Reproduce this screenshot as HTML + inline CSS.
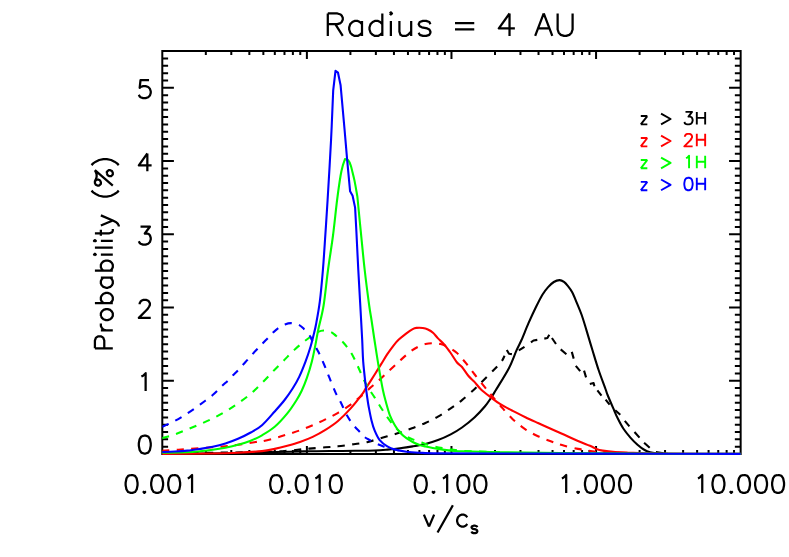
<!DOCTYPE html><html><head><meta charset="utf-8"><title>Radius = 4 AU</title>
<style>html,body{margin:0;padding:0;background:#fff;font-family:"Liberation Sans",sans-serif}svg{display:block}</style></head><body>
<svg width="789" height="557" viewBox="0 0 789 557">
<rect width="789" height="557" fill="#fff"/>
<path d="M162.3,51 H740.65 V454 H162.3 ZM205.83,454v-4M205.83,51v4M231.29,454v-4M231.29,51v4M249.35,454v-4M249.35,51v4M263.36,454v-4M263.36,51v4M274.81,454v-4M274.81,51v4M284.49,454v-4M284.49,51v4M292.88,454v-4M292.88,51v4M300.27,454v-4M300.27,51v4M306.89,454v-8M306.89,51v8M350.41,454v-4M350.41,51v4M375.87,454v-4M375.87,51v4M393.94,454v-4M393.94,51v4M407.95,454v-4M407.95,51v4M419.4,454v-4M419.4,51v4M429.08,454v-4M429.08,51v4M437.46,454v-4M437.46,51v4M444.86,454v-4M444.86,51v4M451.47,454v-8M451.47,51v8M495,454v-4M495,51v4M520.46,454v-4M520.46,51v4M538.53,454v-4M538.53,51v4M552.54,454v-4M552.54,51v4M563.99,454v-4M563.99,51v4M573.67,454v-4M573.67,51v4M582.05,454v-4M582.05,51v4M589.45,454v-4M589.45,51v4M596.06,454v-8M596.06,51v8M639.59,454v-4M639.59,51v4M665.05,454v-4M665.05,51v4M683.11,454v-4M683.11,51v4M697.12,454v-4M697.12,51v4M708.57,454v-4M708.57,51v4M718.25,454v-4M718.25,51v4M726.64,454v-4M726.64,51v4M734.03,454v-4M734.03,51v4M162.3,446.68h5.8M740.65,446.68h-5.8M162.3,439.35h5.8M740.65,439.35h-5.8M162.3,432.03h5.8M740.65,432.03h-5.8M162.3,424.71h5.8M740.65,424.71h-5.8M162.3,417.38h5.8M740.65,417.38h-5.8M162.3,410.06h5.8M740.65,410.06h-5.8M162.3,402.73h5.8M740.65,402.73h-5.8M162.3,395.41h5.8M740.65,395.41h-5.8M162.3,388.09h5.8M740.65,388.09h-5.8M162.3,380.76h11.6M740.65,380.76h-11.6M162.3,373.44h5.8M740.65,373.44h-5.8M162.3,366.12h5.8M740.65,366.12h-5.8M162.3,358.79h5.8M740.65,358.79h-5.8M162.3,351.47h5.8M740.65,351.47h-5.8M162.3,344.15h5.8M740.65,344.15h-5.8M162.3,336.82h5.8M740.65,336.82h-5.8M162.3,329.5h5.8M740.65,329.5h-5.8M162.3,322.17h5.8M740.65,322.17h-5.8M162.3,314.85h5.8M740.65,314.85h-5.8M162.3,307.53h11.6M740.65,307.53h-11.6M162.3,300.2h5.8M740.65,300.2h-5.8M162.3,292.88h5.8M740.65,292.88h-5.8M162.3,285.56h5.8M740.65,285.56h-5.8M162.3,278.23h5.8M740.65,278.23h-5.8M162.3,270.91h5.8M740.65,270.91h-5.8M162.3,263.59h5.8M740.65,263.59h-5.8M162.3,256.26h5.8M740.65,256.26h-5.8M162.3,248.94h5.8M740.65,248.94h-5.8M162.3,241.61h5.8M740.65,241.61h-5.8M162.3,234.29h11.6M740.65,234.29h-11.6M162.3,226.97h5.8M740.65,226.97h-5.8M162.3,219.64h5.8M740.65,219.64h-5.8M162.3,212.32h5.8M740.65,212.32h-5.8M162.3,205h5.8M740.65,205h-5.8M162.3,197.67h5.8M740.65,197.67h-5.8M162.3,190.35h5.8M740.65,190.35h-5.8M162.3,183.03h5.8M740.65,183.03h-5.8M162.3,175.7h5.8M740.65,175.7h-5.8M162.3,168.38h5.8M740.65,168.38h-5.8M162.3,161.05h11.6M740.65,161.05h-11.6M162.3,153.73h5.8M740.65,153.73h-5.8M162.3,146.41h5.8M740.65,146.41h-5.8M162.3,139.08h5.8M740.65,139.08h-5.8M162.3,131.76h5.8M740.65,131.76h-5.8M162.3,124.44h5.8M740.65,124.44h-5.8M162.3,117.11h5.8M740.65,117.11h-5.8M162.3,109.79h5.8M740.65,109.79h-5.8M162.3,102.47h5.8M740.65,102.47h-5.8M162.3,95.14h5.8M740.65,95.14h-5.8M162.3,87.82h11.6M740.65,87.82h-11.6M162.3,80.49h5.8M740.65,80.49h-5.8M162.3,73.17h5.8M740.65,73.17h-5.8M162.3,65.85h5.8M740.65,65.85h-5.8M162.3,58.52h5.8M740.65,58.52h-5.8" fill="none" stroke="#000" stroke-width="2" stroke-linecap="butt" stroke-linejoin="miter"/>
<clipPath id="c"><rect x="162.3" y="51" width="578.35" height="404"/></clipPath>
<g clip-path="url(#c)" fill="none" stroke-width="2.1" stroke-linejoin="round" stroke-linecap="butt">
<path d="M162,453.9C173.33,453.78 213.33,453.47 230,453.2C246.67,452.93 252,452.55 262,452.3C272,452.05 282,451.87 290,451.7C298,451.53 303.33,451.41 310,451.3C316.67,451.19 322.5,451.13 330,451.05C337.5,450.97 347.55,450.9 355,450.8C362.45,450.7 369.32,450.65 374.7,450.45C380.08,450.25 383.08,449.96 387.3,449.6C391.52,449.24 395.77,448.83 400,448.3C404.23,447.77 408.47,447.13 412.7,446.4C416.93,445.67 421.18,444.95 425.4,443.9C429.62,442.85 433.78,441.68 438,440.1C442.22,438.52 446.7,436.5 450.7,434.4C454.7,432.3 458,430.37 462,427.5C466,424.63 470.9,420.7 474.7,417.2C478.5,413.7 482.05,409.77 484.8,406.5C487.55,403.23 489.35,400.35 491.2,397.6C493.05,394.85 492.95,394.9 495.9,390C498.85,385.1 505.47,374.8 508.9,368.2C512.33,361.6 514.4,355.1 516.5,350.4C518.6,345.7 519.5,344.53 521.5,340C523.5,335.47 526.07,328.73 528.5,323.2C530.93,317.67 533.78,311.55 536.1,306.8C538.42,302.05 540.4,297.98 542.4,294.7C544.4,291.42 546.2,289.22 548.1,287.1C550,284.98 551.9,283.17 553.8,282C555.7,280.83 557.8,280.13 559.5,280.1C561.2,280.07 562.62,280.85 564,281.8C565.38,282.75 566.43,284.07 567.8,285.8C569.17,287.53 570.73,289.45 572.2,292.2C573.67,294.95 575.02,298.5 576.6,302.3C578.18,306.1 580.05,310.32 581.7,315C583.35,319.68 584.72,324.57 586.5,330.4C588.28,336.23 590.38,343.4 592.4,350C594.42,356.6 596.42,363.5 598.6,370C600.78,376.5 604,384.83 605.5,389C607,393.17 606.32,391.8 607.6,395C608.88,398.2 611.52,404.32 613.2,408.2C614.88,412.08 616.02,414.92 617.7,418.3C619.38,421.68 621.18,425.28 623.3,428.5C625.42,431.72 628.03,434.9 630.4,437.6C632.77,440.3 635.13,442.63 637.5,444.7C639.87,446.77 642.52,448.75 644.6,450C646.68,451.25 648.1,451.67 650,452.2C651.9,452.73 653,452.93 656,453.2C659,453.47 666,453.7 668,453.8" stroke="#000"/>
<path d="M162,453.5C178.67,453.25 241.5,452.42 262,452C282.5,451.58 277.6,451.52 285,451C292.4,450.48 299.67,449.52 306.4,448.9C313.13,448.28 320.13,447.73 325.4,447.3C330.67,446.87 333.78,446.75 338,446.3C342.22,445.85 347.1,445.08 350.7,444.6C354.3,444.12 356.88,443.8 359.6,443.4C362.32,443 364.48,442.77 367,442.2C369.52,441.63 371.32,440.98 374.7,440C378.08,439.02 383.08,437.55 387.3,436.3C391.52,435.05 395.77,433.88 400,432.5C404.23,431.12 408.47,429.58 412.7,428C416.93,426.42 421.18,424.9 425.4,423C429.62,421.1 433.78,419.03 438,416.6C442.22,414.17 446.7,411.15 450.7,408.4C454.7,405.65 458,403.33 462,400.1C466,396.87 471.53,391.9 474.7,389C477.87,386.1 477.83,385.87 481,382.7C484.17,379.53 490.3,373.5 493.7,370C497.1,366.5 499.58,364.08 501.4,361.7C503.22,359.32 504.07,356.7 504.6,355.7" stroke="#000" stroke-dasharray="7.3 7.35"/>
<path d="M506.8,350L509,353.8L511.9,354.1M518.8,350.3L524.5,346.8M530.95,342.4L533.5,340.5L537.3,339.9M544.3,338.6L547.4,338L549.3,334.8M551.9,338L556,344M560.7,349.4L566.4,354.2M571.8,351.9L573.7,358.6M575.8,365.8L580.2,371.2M584.05,370.6L586.05,377.4M589.8,383.9L593.6,383L594.4,386.2M597.4,390.3L601.5,395.7M605.6,399.6L609.6,404.6M615.2,410.2L620.3,414.8M624.8,420.9L629.4,426.4M634.5,432L639.5,437.6M644.1,442.7L649.7,447.7M655.9,452.1L663.5,453.2" stroke="#000"/>
<path d="M162,453.85C170.45,453.79 200.03,453.69 212.7,453.5C225.37,453.31 229.78,453.1 238,452.7C246.22,452.3 255.88,451.73 262,451.1C268.12,450.47 270.48,449.78 274.7,448.9C278.92,448.02 283.08,446.95 287.3,445.8C291.52,444.65 295.77,443.48 300,442C304.23,440.52 308.47,438.92 312.7,436.9C316.93,434.88 321.18,432.55 325.4,429.9C329.62,427.25 333.78,424.58 338,421C342.22,417.42 346.7,412.83 350.7,408.4C354.7,403.97 359.48,397.73 362,394.4C364.52,391.07 363.68,391.72 365.8,388.4C367.92,385.08 372.17,378.5 374.7,374.5C377.23,370.5 378.9,367.78 381,364.4C383.1,361.02 385.18,357.38 387.3,354.2C389.42,351.02 391.78,347.73 393.7,345.3C395.62,342.87 396.68,341.6 398.8,339.6C400.92,337.6 404.08,335.05 406.4,333.3C408.72,331.55 411.02,330 412.7,329.1C414.38,328.2 414.82,328.08 416.5,327.9C418.18,327.72 420.9,327.73 422.8,328C424.7,328.27 426.2,328.72 427.9,329.5C429.6,330.28 431.32,331.22 433,332.7C434.68,334.18 436.1,336.4 438,338.4C439.9,340.4 442.28,342.27 444.4,344.7C446.52,347.13 448.6,350.03 450.7,353C452.8,355.97 455.12,360.17 457,362.5C458.88,364.83 460.12,364.78 462,367C463.88,369.22 466.18,373.28 468.3,375.8C470.42,378.32 472.58,379.82 474.7,382.1C476.82,384.38 478.25,386.92 481,389.5C483.75,392.08 488.03,395.2 491.2,397.6C494.37,400 496.42,401.68 500,403.9C503.58,406.12 508.47,408.68 512.7,410.9C516.93,413.12 521.18,415.18 525.4,417.2C529.62,419.22 533.78,421.08 538,423C542.22,424.92 546.7,426.92 550.7,428.7C554.7,430.48 557.45,431.65 562,433.7C566.55,435.75 573.33,438.98 578,441C582.67,443.02 586.95,444.48 590,445.8C593.05,447.12 594.18,448.1 596.3,448.9C598.42,449.7 599.53,450.07 602.7,450.6C605.87,451.13 611.08,451.75 615.3,452.1C619.52,452.45 620.55,452.47 628,452.7C635.45,452.93 641,453.3 660,453.5C679,453.7 728.33,453.83 742,453.9" stroke="#f00"/>
<path d="M162,450.8C164.75,450.63 173,450.18 178.5,449.8C184,449.42 189.3,448.92 195,448.5C200.7,448.08 207.63,447.65 212.7,447.3C217.77,446.95 221.18,446.82 225.4,446.4C229.62,445.98 232.93,445.53 238,444.8C243.07,444.07 251.8,442.58 255.8,442C259.8,441.42 258.85,441.93 262,441.3C265.15,440.67 270.48,439.35 274.7,438.2C278.92,437.05 283.08,435.72 287.3,434.4C291.52,433.08 295.77,431.83 300,430.3C304.23,428.77 308.47,427.02 312.7,425.2C316.93,423.38 321.18,421.47 325.4,419.4C329.62,417.33 333.78,415.27 338,412.8C342.22,410.33 347.03,407.23 350.7,404.6C354.37,401.97 356.85,399.7 360,397C363.15,394.3 366.52,391.1 369.6,388.4C372.68,385.7 375.12,383.87 378.5,380.8C381.88,377.73 386.32,373.37 389.9,370C393.48,366.63 396.62,363.65 400,360.6C403.38,357.55 407.23,353.98 410.2,351.7C413.17,349.42 415.27,348.17 417.8,346.9C420.33,345.63 422.87,344.72 425.4,344.1C427.93,343.48 430.47,343.2 433,343.2C435.53,343.2 438.07,343.43 440.6,344.1C443.13,344.77 445.47,345.72 448.2,347.2C450.93,348.68 454.7,351.12 457,353C459.3,354.88 460.33,356.6 462,358.5C463.67,360.4 464.88,361.73 467,364.4C469.12,367.07 471.73,370.7 474.7,374.5C477.67,378.3 482.05,383.78 484.8,387.2C487.55,390.62 488.67,392 491.2,395C493.73,398 496.42,401.17 500,405.2C503.58,409.23 508.47,415.18 512.7,419.2C516.93,423.22 521.18,426.45 525.4,429.3C529.62,432.15 533.78,434.3 538,436.3C542.22,438.3 546.7,439.83 550.7,441.3C554.7,442.77 557.45,443.83 562,445.1C566.55,446.37 573.22,447.92 578,448.9C582.78,449.88 586.47,450.43 590.7,451C594.93,451.57 596.85,451.92 603.4,452.3C609.95,452.68 625.57,453.13 630,453.3" stroke="#f00" stroke-dasharray="7.3 7.35"/>
<path d="M162,452.8C166.22,452.7 180.97,452.47 187.3,452.2C193.63,451.93 195.77,451.6 200,451.2C204.23,450.8 208.47,450.38 212.7,449.8C216.93,449.22 221.18,448.53 225.4,447.7C229.62,446.87 233.78,445.97 238,444.8C242.22,443.63 246.7,442.28 250.7,440.7C254.7,439.12 258,437.62 262,435.3C266,432.98 270.48,430.45 274.7,426.8C278.92,423.15 283.65,417.87 287.3,413.4C290.95,408.93 294.2,403.77 296.6,400C299,396.23 300,394.43 301.7,390.8C303.4,387.17 305.12,383.05 306.8,378.2C308.48,373.35 310.33,367.42 311.8,361.7C313.27,355.98 314.53,349.18 315.6,343.9C316.67,338.62 316.87,336.4 318.2,330C319.53,323.6 321.97,315.5 323.6,305.5C325.23,295.5 326.43,281.67 328,270C329.57,258.33 331.48,247.17 333,235.5C334.52,223.83 335.83,210 337.1,200C338.37,190 339.62,181.37 340.6,175.5C341.58,169.63 342.6,166.58 343,164.8L345,159L345,159C345.53,159.22 347.25,159.25 348.2,160.3C349.15,161.35 349.98,163.32 350.7,165.3C351.42,167.28 351.87,169.65 352.5,172.2C353.13,174.75 353.75,176.88 354.5,180.6C355.25,184.32 356.47,191.27 357,194.5C357.53,197.73 357.07,193.8 357.7,200C358.33,206.2 359.63,220.03 360.8,231.7C361.97,243.37 363.3,257.7 364.7,270C366.1,282.3 368.07,297.17 369.2,305.5C370.33,313.83 370.58,314 371.5,320C372.42,326 373.53,333.9 374.7,341.5C375.87,349.1 377.13,357.52 378.5,365.6C379.87,373.68 381.63,383.82 382.9,390C384.17,396.18 384.93,398.48 386.1,402.7C387.27,406.92 388.42,411.5 389.9,415.3C391.38,419.1 393.32,422.63 395,425.5C396.68,428.37 398.1,430.38 400,432.5C401.9,434.62 404.28,436.62 406.4,438.2C408.52,439.78 410.6,440.9 412.7,442C414.8,443.1 416.88,444.07 419,444.8C421.12,445.53 422.23,445.72 425.4,446.4C428.57,447.08 433.78,448.2 438,448.9C442.22,449.6 446.7,450.2 450.7,450.6C454.7,451 453.78,451.03 462,451.3C470.22,451.57 483.67,451.92 500,452.2C516.33,452.48 536.67,452.78 560,453C583.33,453.22 609.67,453.35 640,453.5C670.33,453.65 725,453.83 742,453.9" stroke="#0f0"/>
<path d="M162,438.2C164.12,437.57 170.48,435.85 174.7,434.4C178.92,432.95 183.08,431.2 187.3,429.5C191.52,427.8 195.77,426.03 200,424.2C204.23,422.37 208.47,420.62 212.7,418.5C216.93,416.38 221.18,414.03 225.4,411.5C229.62,408.97 233.78,406.25 238,403.3C242.22,400.35 246.7,397.18 250.7,393.8C254.7,390.42 258.25,386.77 262,383C265.75,379.23 269.55,374.97 273.2,371.2C276.85,367.43 280.22,364.1 283.9,360.4C287.58,356.7 291.48,352.48 295.3,349C299.12,345.52 302.98,342.35 306.8,339.5C310.62,336.65 315.33,333.4 318.2,331.9C321.07,330.4 321.9,330.5 324,330.5C326.1,330.5 328.82,331.03 330.8,331.9C332.78,332.77 333.78,333.9 335.9,335.7C338.02,337.5 340.97,339.85 343.5,342.7C346.03,345.55 348.77,349 351.1,352.8C353.43,356.6 355.6,361.48 357.5,365.5C359.4,369.52 361.03,373.73 362.5,376.9C363.97,380.07 365.12,382.32 366.3,384.5C367.48,386.68 368.2,387.82 369.6,390C371,392.18 372.8,394.65 374.7,397.6C376.6,400.55 378.9,404.43 381,407.7C383.1,410.97 385.18,414.23 387.3,417.2C389.42,420.17 391.58,423.07 393.7,425.5C395.82,427.93 397.88,430 400,431.8C402.12,433.6 404.28,435.03 406.4,436.3C408.52,437.57 410.17,438.35 412.7,439.4C415.23,440.45 418.43,441.53 421.6,442.6C424.77,443.67 427.9,444.85 431.7,445.8C435.5,446.75 439.35,447.47 444.4,448.3C449.45,449.13 452.73,450.15 462,450.8C471.27,451.45 493.67,451.97 500,452.2" stroke="#0f0" stroke-dasharray="7.3 7.35"/>
<path d="M162,452C164.12,451.92 170.48,451.73 174.7,451.5C178.92,451.27 183.08,451.03 187.3,450.6C191.52,450.17 195.77,449.53 200,448.9C204.23,448.27 208.47,447.7 212.7,446.8C216.93,445.9 221.18,444.83 225.4,443.5C229.62,442.17 233.78,440.63 238,438.8C242.22,436.97 246.7,434.77 250.7,432.5C254.7,430.23 258,428.7 262,425.2C266,421.7 270.93,415.7 274.7,411.5C278.47,407.3 281.58,403.87 284.6,400C287.62,396.13 290.37,392.15 292.8,388.3C295.23,384.45 297.08,381.33 299.2,376.9C301.32,372.47 303.6,366.77 305.5,361.7C307.4,356.63 309.25,350.95 310.6,346.5C311.95,342.05 312.7,338.67 313.6,335C314.5,331.33 314.97,330.05 316,324.5C317.03,318.95 318.65,310.78 319.8,301.7C320.95,292.62 321.98,281.03 322.9,270C323.82,258.97 324.52,247.17 325.3,235.5C326.08,223.83 326.64,215.92 327.6,200C328.56,184.08 330.12,158.27 331.05,140C331.98,121.73 332.84,98.67 333.2,90.4L335.5,70.8L338,72.7L340.6,85.3L344.6,130L347.2,160.3L350.1,191.3L352.6,195.8L355.1,207.6L355.1,207.6C355.32,211.62 355.87,221.3 356.4,231.7C356.93,242.1 357.65,257.7 358.3,270C358.95,282.3 359.65,293.83 360.3,305.5C360.95,317.17 361.72,330.63 362.2,340C362.68,349.37 362.62,354.07 363.2,361.7C363.78,369.33 364.97,379.42 365.7,385.8C366.43,392.18 367.12,396.6 367.6,400C368.08,403.4 367.95,402.8 368.6,406.2C369.25,409.6 370.48,416.33 371.5,420.4C372.52,424.47 373.33,427.32 374.7,430.6C376.07,433.88 377.6,437.47 379.7,440.1C381.8,442.73 384.75,444.82 387.3,446.4C389.85,447.98 391.82,448.72 395,449.6C398.18,450.48 402.4,451.18 406.4,451.7C410.4,452.22 413.73,452.42 419,452.7C424.27,452.98 424.5,453.27 438,453.4C451.5,453.53 473,453.47 500,453.5C527,453.53 559.67,453.53 600,453.6C640.33,453.67 718.33,453.85 742,453.9" stroke="#00f"/>
<path d="M162,426.8C164.12,425.83 170.48,423.23 174.7,421C178.92,418.77 183.08,416.13 187.3,413.4C191.52,410.67 195.77,407.67 200,404.6C204.23,401.53 209.03,398.1 212.7,395C216.37,391.9 219.45,388.42 222,386C224.55,383.58 226.17,382.28 228,380.5C229.83,378.72 231.33,377 233,375.3C234.67,373.6 236.33,372.07 238,370.3C239.67,368.53 241.33,366.53 243,364.7C244.67,362.87 246.33,361.15 248,359.3C249.67,357.45 251.33,355.43 253,353.6C254.67,351.77 256.33,350.07 258,348.3C259.67,346.53 261.33,344.72 263,343C264.67,341.28 266.33,339.73 268,338C269.67,336.27 271.33,334.22 273,332.6C274.67,330.98 276,329.67 278,328.3C280,326.93 282.78,325.27 285,324.4C287.22,323.53 288.98,323.03 291.3,323.1C293.62,323.17 296.8,323.83 298.9,324.8C301,325.77 302,326.95 303.9,328.9C305.8,330.85 308.98,334.63 310.3,336.5C311.62,338.37 310.48,337.6 311.8,340.1C313.12,342.6 316.08,347.27 318.2,351.5C320.32,355.73 322.6,361.05 324.5,365.5C326.4,369.95 327.7,373.55 329.6,378.2C331.5,382.85 334.07,389.43 335.9,393.4C337.73,397.37 338.77,398.35 340.6,402C342.43,405.65 344.78,411.48 346.9,415.3C349.02,419.12 351.18,422.15 353.3,424.9C355.42,427.65 357.73,429.8 359.6,431.8C361.47,433.8 362.83,435.53 364.5,436.9C366.17,438.27 367.48,438.83 369.6,440C371.72,441.17 374.88,442.83 377.2,443.9C379.52,444.97 381.03,445.55 383.5,446.4C385.97,447.25 388.25,448.12 392,449C395.75,449.88 403.67,451.25 406,451.7" stroke="#00f" stroke-dasharray="7.3 7.35"/>
</g>
<g fill="none" stroke-width="2.25" stroke-linecap="butt" stroke-linejoin="round">
<path d="M327.80,13.45L327.80,35.90M327.80,13.45L337.42,13.45L340.63,14.52L341.70,15.59L342.77,17.73L342.77,19.86L341.70,22.00L340.63,23.07L337.42,24.14L327.80,24.14M335.28,24.14L342.77,35.90M362.01,20.93L362.01,35.90M362.01,24.14L359.87,22.00L357.73,20.93L354.52,20.93L352.39,22.00L350.25,24.14L349.18,27.35L349.18,29.49L350.25,32.69L352.39,34.83L354.52,35.90L357.73,35.90L359.87,34.83L362.01,32.69M382.32,13.45L382.32,35.90M382.32,24.14L380.18,22.00L378.04,20.93L374.84,20.93L372.70,22.00L370.56,24.14L369.49,27.35L369.49,29.49L370.56,32.69L372.70,34.83L374.84,35.90L378.04,35.90L380.18,34.83L382.32,32.69M389.80,13.45L390.87,14.52L391.94,13.45L390.87,12.38L389.80,13.45M390.87,20.93L390.87,35.90M399.42,20.93L399.42,31.62L400.49,34.83L402.63,35.90L405.84,35.90L407.97,34.83L411.18,31.62M411.18,20.93L411.18,35.90M430.42,24.14L429.35,22.00L426.15,20.93L422.94,20.93L419.73,22.00L418.66,24.14L419.73,26.28L421.87,27.35L427.22,28.42L429.35,29.49L430.42,31.62L430.42,32.69L429.35,34.83L426.15,35.90L422.94,35.90L419.73,34.83L418.66,32.69M455.01,23.07L474.25,23.07M455.01,29.49L474.25,29.49M509.53,13.45L498.84,28.42L514.87,28.42M509.53,13.45L509.53,35.90M543.74,13.45L535.19,35.90M543.74,13.45L552.29,35.90M538.39,28.42L549.08,28.42M557.63,13.45L557.63,29.49L558.70,32.69L560.84,34.83L564.05,35.90L566.19,35.90L569.39,34.83L571.53,32.69L572.60,29.49L572.60,13.45" stroke="#000"/>
<path d="M130.73,475.01L128.17,475.86L126.47,478.42L125.62,482.68L125.62,485.23L126.47,489.49L128.17,492.05L130.73,492.90L132.43,492.90L134.99,492.05L136.69,489.49L137.54,485.23L137.54,482.68L136.69,478.42L134.99,475.86L132.43,475.01L130.73,475.01M144.36,491.20L143.51,492.05L144.36,492.90L145.21,492.05L144.36,491.20M156.29,475.01L153.73,475.86L152.03,478.42L151.18,482.68L151.18,485.23L152.03,489.49L153.73,492.05L156.29,492.90L157.99,492.90L160.55,492.05L162.25,489.49L163.10,485.23L163.10,482.68L162.25,478.42L160.55,475.86L157.99,475.01L156.29,475.01M173.33,475.01L170.77,475.86L169.07,478.42L168.22,482.68L168.22,485.23L169.07,489.49L170.77,492.05L173.33,492.90L175.03,492.90L177.59,492.05L179.29,489.49L180.14,485.23L180.14,482.68L179.29,478.42L177.59,475.86L175.03,475.01L173.33,475.01M187.81,478.42L189.52,477.56L192.07,475.01L192.07,492.90" stroke="#000"/>
<path d="M275.32,475.01L272.76,475.86L271.06,478.42L270.20,482.68L270.20,485.23L271.06,489.49L272.76,492.05L275.32,492.90L277.02,492.90L279.58,492.05L281.28,489.49L282.13,485.23L282.13,482.68L281.28,478.42L279.58,475.86L277.02,475.01L275.32,475.01M288.95,491.20L288.10,492.05L288.95,492.90L289.80,492.05L288.95,491.20M300.88,475.01L298.32,475.86L296.62,478.42L295.76,482.68L295.76,485.23L296.62,489.49L298.32,492.05L300.88,492.90L302.58,492.90L305.14,492.05L306.84,489.49L307.69,485.23L307.69,482.68L306.84,478.42L305.14,475.86L302.58,475.01L300.88,475.01M315.36,478.42L317.06,477.56L319.62,475.01L319.62,492.90M334.96,475.01L332.40,475.86L330.70,478.42L329.84,482.68L329.84,485.23L330.70,489.49L332.40,492.05L334.96,492.90L336.66,492.90L339.22,492.05L340.92,489.49L341.77,485.23L341.77,482.68L340.92,478.42L339.22,475.86L336.66,475.01L334.96,475.01" stroke="#000"/>
<path d="M419.90,475.01L417.35,475.86L415.64,478.42L414.79,482.68L414.79,485.23L415.64,489.49L417.35,492.05L419.90,492.90L421.61,492.90L424.16,492.05L425.87,489.49L426.72,485.23L426.72,482.68L425.87,478.42L424.16,475.86L421.61,475.01L419.90,475.01M433.54,491.20L432.68,492.05L433.54,492.90L434.39,492.05L433.54,491.20M442.91,478.42L444.61,477.56L447.17,475.01L447.17,492.90M462.50,475.01L459.95,475.86L458.24,478.42L457.39,482.68L457.39,485.23L458.24,489.49L459.95,492.05L462.50,492.90L464.21,492.90L466.76,492.05L468.47,489.49L469.32,485.23L469.32,482.68L468.47,478.42L466.76,475.86L464.21,475.01L462.50,475.01M479.54,475.01L476.99,475.86L475.28,478.42L474.43,482.68L474.43,485.23L475.28,489.49L476.99,492.05L479.54,492.90L481.25,492.90L483.80,492.05L485.51,489.49L486.36,485.23L486.36,482.68L485.51,478.42L483.80,475.86L481.25,475.01L479.54,475.01" stroke="#000"/>
<path d="M561.93,478.42L563.64,477.56L566.19,475.01L566.19,492.90M578.12,491.20L577.27,492.05L578.12,492.90L578.97,492.05L578.12,491.20M590.05,475.01L587.49,475.86L585.79,478.42L584.94,482.68L584.94,485.23L585.79,489.49L587.49,492.05L590.05,492.90L591.75,492.90L594.31,492.05L596.01,489.49L596.87,485.23L596.87,482.68L596.01,478.42L594.31,475.86L591.75,475.01L590.05,475.01M607.09,475.01L604.53,475.86L602.83,478.42L601.98,482.68L601.98,485.23L602.83,489.49L604.53,492.05L607.09,492.90L608.79,492.90L611.35,492.05L613.05,489.49L613.91,485.23L613.91,482.68L613.05,478.42L611.35,475.86L608.79,475.01L607.09,475.01M624.13,475.01L621.57,475.86L619.87,478.42L619.02,482.68L619.02,485.23L619.87,489.49L621.57,492.05L624.13,492.90L625.83,492.90L628.39,492.05L630.09,489.49L630.95,485.23L630.95,482.68L630.09,478.42L628.39,475.86L625.83,475.01L624.13,475.01" stroke="#000"/>
<path d="M698.00,478.42L699.71,477.56L702.26,475.01L702.26,492.90M717.60,475.01L715.04,475.86L713.34,478.42L712.49,482.68L712.49,485.23L713.34,489.49L715.04,492.05L717.60,492.90L719.30,492.90L721.86,492.05L723.56,489.49L724.41,485.23L724.41,482.68L723.56,478.42L721.86,475.86L719.30,475.01L717.60,475.01M731.23,491.20L730.38,492.05L731.23,492.90L732.08,492.05L731.23,491.20M743.16,475.01L740.60,475.86L738.90,478.42L738.05,482.68L738.05,485.23L738.90,489.49L740.60,492.05L743.16,492.90L744.86,492.90L747.42,492.05L749.12,489.49L749.97,485.23L749.97,482.68L749.12,478.42L747.42,475.86L744.86,475.01L743.16,475.01M760.20,475.01L757.64,475.86L755.94,478.42L755.09,482.68L755.09,485.23L755.94,489.49L757.64,492.05L760.20,492.90L761.90,492.90L764.46,492.05L766.16,489.49L767.01,485.23L767.01,482.68L766.16,478.42L764.46,475.86L761.90,475.01L760.20,475.01M777.24,475.01L774.68,475.86L772.98,478.42L772.13,482.68L772.13,485.23L772.98,489.49L774.68,492.05L777.24,492.90L778.94,492.90L781.50,492.05L783.20,489.49L784.05,485.23L784.05,482.68L783.20,478.42L781.50,475.86L778.94,475.01L777.24,475.01" stroke="#000"/>
<path d="M143.93,435.61L141.37,436.46L139.67,439.02L138.82,443.28L138.82,445.83L139.67,450.09L141.37,452.65L143.93,453.50L145.63,453.50L148.19,452.65L149.89,450.09L150.74,445.83L150.74,443.28L149.89,439.02L148.19,436.46L145.63,435.61L143.93,435.61" stroke="#000"/>
<path d="M141.37,376.58L143.08,375.73L145.63,373.17L145.63,391.06" stroke="#000"/>
<path d="M139.67,304.20L139.67,303.34L140.52,301.64L141.37,300.79L143.08,299.94L146.48,299.94L148.19,300.79L149.04,301.64L149.89,303.34L149.89,305.05L149.04,306.75L147.34,309.31L138.82,317.83L150.74,317.83" stroke="#000"/>
<path d="M140.52,226.70L149.89,226.70L144.78,233.51L147.34,233.51L149.04,234.37L149.89,235.22L150.74,237.77L150.74,239.48L149.89,242.03L148.19,243.74L145.63,244.59L143.08,244.59L140.52,243.74L139.67,242.89L138.82,241.18" stroke="#000"/>
<path d="M147.34,153.46L138.82,165.39L151.60,165.39M147.34,153.46L147.34,171.35" stroke="#000"/>
<path d="M149.04,80.23L140.52,80.23L139.67,87.89L140.52,87.04L143.08,86.19L145.63,86.19L148.19,87.04L149.89,88.75L150.74,91.30L150.74,93.01L149.89,95.56L148.19,97.27L145.63,98.12L143.08,98.12L140.52,97.27L139.67,96.41L138.82,94.71" stroke="#000"/>
<path d="M423.90,514.67L429.02,526.60M434.13,514.67L429.02,526.60M452.87,505.30L437.54,532.56M467.36,517.23L465.65,515.52L463.95,514.67L461.39,514.67L459.69,515.52L457.98,517.23L457.13,519.78L457.13,521.49L457.98,524.04L459.69,525.75L461.39,526.60L463.95,526.60L465.65,525.75L467.36,524.04" stroke="#000"/>
<path d="M477.31,527.29L476.78,526.23L475.19,525.70L473.61,525.70L472.02,526.23L471.50,527.29L472.02,528.35L473.08,528.87L475.72,529.40L476.78,529.93L477.31,530.99L477.31,531.52L476.78,532.57L475.19,533.10L473.61,533.10L472.02,532.57L471.50,531.52" stroke="#000"/>
<path d="M647.34,116.06L640.79,124.40M640.79,116.06L647.34,116.06M640.79,124.40L647.34,124.40M661.05,113.67L670.59,119.04L661.05,124.40M685.49,111.88L692.04,111.88L688.47,116.65L690.26,116.65L691.45,117.25L692.04,117.84L692.64,119.63L692.64,120.82L692.04,122.61L690.85,123.80L689.06,124.40L687.28,124.40L685.49,123.80L684.89,123.21L684.30,122.02M696.81,111.88L696.81,124.40M705.16,111.88L705.16,124.40M696.81,117.84L705.16,117.84" stroke="#000" stroke-width="1.9"/>
<path d="M647.34,138.01L640.79,146.35M640.79,138.01L647.34,138.01M640.79,146.35L647.34,146.35M661.05,135.62L670.59,140.99L661.05,146.35M684.89,136.81L684.89,136.22L685.49,135.03L686.08,134.43L687.28,133.83L689.66,133.83L690.85,134.43L691.45,135.03L692.04,136.22L692.04,137.41L691.45,138.60L690.26,140.39L684.30,146.35L692.64,146.35M696.81,133.83L696.81,146.35M705.16,133.83L705.16,146.35M696.81,139.79L705.16,139.79" stroke="#f00" stroke-width="1.9"/>
<path d="M647.34,159.96L640.79,168.30M640.79,159.96L647.34,159.96M640.79,168.30L647.34,168.30M661.05,157.57L670.59,162.94L661.05,168.30M686.08,158.17L687.28,157.57L689.06,155.78L689.06,168.30M696.81,155.78L696.81,168.30M705.16,155.78L705.16,168.30M696.81,161.74L705.16,161.74" stroke="#0f0" stroke-width="1.9"/>
<path d="M647.34,181.91L640.79,190.25M640.79,181.91L647.34,181.91M640.79,190.25L647.34,190.25M661.05,179.52L670.59,184.89L661.05,190.25M687.87,177.73L686.08,178.33L684.89,180.12L684.30,183.10L684.30,184.89L684.89,187.87L686.08,189.65L687.87,190.25L689.06,190.25L690.85,189.65L692.04,187.87L692.64,184.89L692.64,183.10L692.04,180.12L690.85,178.33L689.06,177.73L687.87,177.73M696.81,177.73L696.81,190.25M705.16,177.73L705.16,190.25M696.81,183.69L705.16,183.69" stroke="#00f" stroke-width="1.9"/>
<path d="M-94.57,-17.89L-94.57,0.00M-94.57,-17.89L-86.90,-17.89L-84.35,-17.04L-83.50,-16.19L-82.64,-14.48L-82.64,-11.93L-83.50,-10.22L-84.35,-9.37L-86.90,-8.52L-94.57,-8.52M-76.68,-11.93L-76.68,0.00M-76.68,-6.82L-75.83,-9.37L-74.12,-11.08L-72.42,-11.93L-69.86,-11.93M-62.20,-11.93L-63.90,-11.08L-65.60,-9.37L-66.46,-6.82L-66.46,-5.11L-65.60,-2.56L-63.90,-0.85L-62.20,0.00L-59.64,0.00L-57.94,-0.85L-56.23,-2.56L-55.38,-5.11L-55.38,-6.82L-56.23,-9.37L-57.94,-11.08L-59.64,-11.93L-62.20,-11.93M-49.42,-17.89L-49.42,0.00M-49.42,-9.37L-47.71,-11.08L-46.01,-11.93L-43.45,-11.93L-41.75,-11.08L-40.04,-9.37L-39.19,-6.82L-39.19,-5.11L-40.04,-2.56L-41.75,-0.85L-43.45,0.00L-46.01,0.00L-47.71,-0.85L-49.42,-2.56M-23.86,-11.93L-23.86,0.00M-23.86,-9.37L-25.56,-11.08L-27.26,-11.93L-29.82,-11.93L-31.52,-11.08L-33.23,-9.37L-34.08,-6.82L-34.08,-5.11L-33.23,-2.56L-31.52,-0.85L-29.82,0.00L-27.26,0.00L-25.56,-0.85L-23.86,-2.56M-17.04,-17.89L-17.04,0.00M-17.04,-9.37L-15.34,-11.08L-13.63,-11.93L-11.08,-11.93L-9.37,-11.08L-7.67,-9.37L-6.82,-6.82L-6.82,-5.11L-7.67,-2.56L-9.37,-0.85L-11.08,0.00L-13.63,0.00L-15.34,-0.85L-17.04,-2.56M-1.70,-17.89L-0.85,-17.04L0.00,-17.89L-0.85,-18.74L-1.70,-17.89M-0.85,-11.93L-0.85,0.00M5.96,-17.89L5.96,0.00M11.93,-17.89L12.78,-17.04L13.63,-17.89L12.78,-18.74L11.93,-17.89M12.78,-11.93L12.78,0.00M20.45,-17.89L20.45,-3.41L21.30,-0.85L23.00,0.00L24.71,0.00M17.89,-11.93L23.86,-11.93M28.12,-11.93L33.23,0.00M38.34,-11.93L33.23,0.00L31.52,3.41L29.82,5.11L28.12,5.96L27.26,5.96M63.05,-21.30L61.34,-19.60L59.64,-17.04L57.94,-13.63L57.08,-9.37L57.08,-5.96L57.94,-1.70L59.64,1.70L61.34,4.26L63.05,5.96M83.50,-17.89L68.16,0.00M72.42,-17.89L74.12,-16.19L74.12,-14.48L73.27,-12.78L71.57,-11.93L69.86,-11.93L68.16,-13.63L68.16,-15.34L69.01,-17.04L70.72,-17.89L72.42,-17.89L74.12,-17.04L76.68,-16.19L79.24,-16.19L81.79,-17.04L83.50,-17.89M80.09,-5.96L78.38,-5.11L77.53,-3.41L77.53,-1.70L79.24,0.00L80.94,0.00L82.64,-0.85L83.50,-2.56L83.50,-4.26L81.79,-5.96L80.09,-5.96M88.61,-21.30L90.31,-19.60L92.02,-17.04L93.72,-13.63L94.57,-9.37L94.57,-5.96L93.72,-1.70L92.02,1.70L90.31,4.26L88.61,5.96" stroke="#000" transform="translate(112.8,253.7) rotate(-90)"/>
</g>
</svg></body></html>
